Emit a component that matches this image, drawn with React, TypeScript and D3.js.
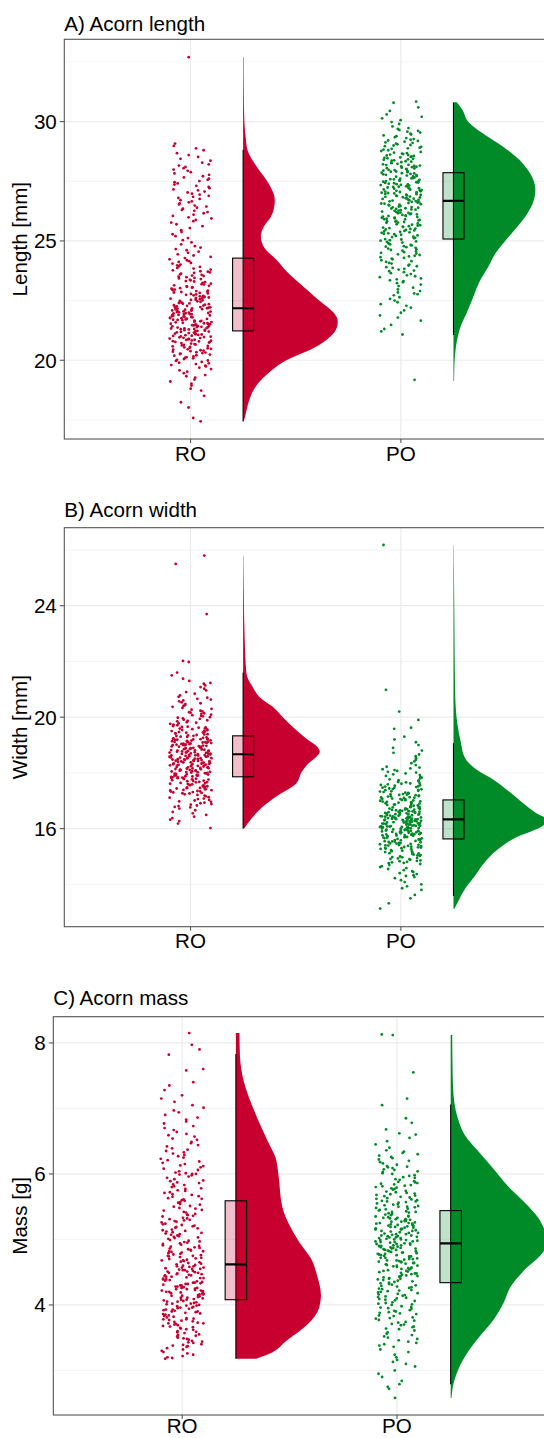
import React from "react";
import * as d3 from "d3";

// ---------------- DATA ----------------
const categories = ["RO", "PO"];
const groupColors = ["#C70030", "#008A28"];

// Panel A: acorn length [mm]
const lengthRO = [
  17.44, 17.58, 18.02, 18.24, 18.51, 18.73,
  18.81, 18.94, 19.02, 19.11, 19.19,
  19.27, 19.33, 19.38, 19.46, 19.52, 19.58, 19.63, 19.69, 19.74,
  19.77, 19.8, 19.84, 19.87, 19.9, 19.93, 19.97, 19.99, 20.02, 20.05, 20.08, 20.1, 20.13, 20.16, 20.19, 20.21, 20.24,
  20.26, 20.28, 20.3, 20.32, 20.34, 20.36, 20.38, 20.4, 20.42, 20.44, 20.46, 20.48, 20.5, 20.52, 20.54, 20.56, 20.58, 20.6, 20.62, 20.64, 20.66, 20.68, 20.7, 20.72, 20.74,
  20.76, 20.77, 20.79, 20.8, 20.82, 20.83, 20.85, 20.86, 20.88, 20.9, 20.91, 20.93, 20.94, 20.96, 20.97, 20.99, 21.0, 21.02, 21.03, 21.05, 21.06, 21.08, 21.09, 21.11, 21.12, 21.14, 21.16, 21.17, 21.19, 21.2, 21.22, 21.23, 21.24,
  21.26, 21.27, 21.29, 21.3, 21.31, 21.33, 21.34, 21.35, 21.37, 21.38, 21.39, 21.4, 21.42, 21.43, 21.44, 21.46, 21.47, 21.48, 21.5, 21.51, 21.52, 21.53, 21.55, 21.56, 21.57, 21.59, 21.6, 21.61, 21.63, 21.64, 21.65, 21.66, 21.68, 21.69, 21.7, 21.71, 21.73, 21.74,
  21.76, 21.77, 21.78, 21.8, 21.81, 21.82, 21.84, 21.85, 21.86, 21.88, 21.89, 21.9, 21.92, 21.93, 21.94, 21.96, 21.97, 21.98, 22.0, 22.01, 22.02, 22.04, 22.05, 22.06, 22.08, 22.09, 22.1, 22.12, 22.13, 22.14, 22.16, 22.17, 22.18, 22.2, 22.21, 22.22, 22.23, 22.24,
  22.26, 22.28, 22.29, 22.31, 22.33, 22.35, 22.37, 22.38, 22.4, 22.42, 22.44, 22.45, 22.47, 22.49, 22.51, 22.53, 22.54, 22.56, 22.58, 22.6, 22.61, 22.63, 22.65, 22.67, 22.68, 22.7, 22.72, 22.74,
  22.76, 22.78, 22.8, 22.82, 22.84, 22.86, 22.88, 22.9, 22.92, 22.94, 22.96, 22.98, 23.0, 23.02, 23.04, 23.06, 23.08, 23.1, 23.12, 23.14, 23.17, 23.19, 23.21, 23.24,
  23.27, 23.3, 23.32, 23.35, 23.37, 23.4, 23.43, 23.45, 23.48, 23.5, 23.53, 23.55, 23.58, 23.6, 23.63, 23.66, 23.68, 23.71, 23.73,
  23.77, 23.8, 23.84, 23.87, 23.91, 23.94, 23.98, 24.01, 24.05, 24.08, 24.12, 24.15, 24.19, 24.23,
  24.28, 24.33, 24.39, 24.44, 24.5, 24.55, 24.61, 24.66, 24.72,
  24.78, 24.86, 24.94, 25.03, 25.12, 25.2,
  25.28, 25.37, 25.45, 25.54, 25.62, 25.7,
  25.77, 25.83, 25.88, 25.94, 25.99, 26.05, 26.1, 26.16, 26.21,
  26.26, 26.3, 26.35, 26.39, 26.44, 26.48, 26.53, 26.57, 26.62, 26.66, 26.71,
  26.76, 26.8, 26.85, 26.89, 26.94, 26.98, 27.03, 27.07, 27.12, 27.16, 27.21,
  27.26, 27.31, 27.36, 27.41, 27.46, 27.51, 27.56, 27.61, 27.66, 27.71,
  27.77, 27.83, 27.88, 27.94, 27.99, 28.05, 28.1, 28.16, 28.21,
  28.28, 28.36, 28.44, 28.52, 28.6, 28.68,
  28.8, 28.88, 28.98, 29.08,
  32.7,
];
const lengthPO = [
  19.18,
  21.08, 21.21, 21.31, 21.48, 21.66,
  21.79, 21.88, 21.99, 22.09, 22.2,
  22.28, 22.35, 22.43, 22.5, 22.57, 22.64, 22.72,
  22.77, 22.8, 22.84, 22.9, 22.97, 23.04, 23.11, 23.17, 23.23,
  23.27, 23.31, 23.35, 23.39, 23.43, 23.48, 23.52, 23.56, 23.61, 23.65, 23.69, 23.73,
  23.76, 23.8, 23.83, 23.87, 23.9, 23.94, 23.97, 24.01, 24.05, 24.08, 24.12, 24.15, 24.19, 24.23,
  24.26, 24.29, 24.32, 24.35, 24.38, 24.41, 24.44, 24.47, 24.5, 24.53, 24.56, 24.59, 24.62, 24.65, 24.68, 24.71, 24.74,
  24.76, 24.78, 24.81, 24.83, 24.86, 24.88, 24.91, 24.93, 24.96, 24.98, 25.01, 25.03, 25.06, 25.08, 25.11, 25.13, 25.16, 25.18, 25.21, 25.23,
  25.26, 25.28, 25.3, 25.32, 25.34, 25.36, 25.38, 25.4, 25.42, 25.44, 25.46, 25.48, 25.5, 25.52, 25.54, 25.56, 25.58, 25.6, 25.62, 25.64, 25.66, 25.68, 25.7, 25.73,
  25.76, 25.77, 25.79, 25.81, 25.83, 25.84, 25.86, 25.88, 25.9, 25.91, 25.93, 25.95, 25.97, 25.98, 26.0, 26.02, 26.04, 26.05, 26.07, 26.09, 26.11, 26.12, 26.14, 26.16, 26.18, 26.19, 26.21, 26.23,
  26.26, 26.27, 26.29, 26.31, 26.32, 26.34, 26.36, 26.37, 26.39, 26.41, 26.42, 26.44, 26.46, 26.47, 26.49, 26.51, 26.52, 26.54, 26.56, 26.57, 26.59, 26.61, 26.62, 26.64, 26.66, 26.67, 26.69, 26.71, 26.72, 26.74,
  26.76, 26.77, 26.79, 26.8, 26.82, 26.83, 26.85, 26.86, 26.88, 26.9, 26.91, 26.93, 26.94, 26.96, 26.97, 26.99, 27.01, 27.02, 27.04, 27.05, 27.07, 27.08, 27.1, 27.12, 27.13, 27.15, 27.16, 27.18, 27.19, 27.21, 27.22, 27.24,
  27.26, 27.27, 27.29, 27.3, 27.32, 27.34, 27.35, 27.37, 27.38, 27.4, 27.42, 27.43, 27.45, 27.46, 27.48, 27.5, 27.51, 27.53, 27.54, 27.56, 27.58, 27.59, 27.61, 27.62, 27.64, 27.66, 27.67, 27.69, 27.7, 27.72, 27.74,
  27.76, 27.77, 27.79, 27.81, 27.83, 27.84, 27.86, 27.88, 27.9, 27.91, 27.93, 27.95, 27.97, 27.98, 28.0, 28.02, 28.04, 28.05, 28.07, 28.09, 28.11, 28.12, 28.14, 28.16, 28.18, 28.19, 28.21, 28.23,
  28.26, 28.28, 28.3, 28.32, 28.34, 28.36, 28.38, 28.4, 28.42, 28.44, 28.46, 28.48, 28.5, 28.52, 28.54, 28.56, 28.58, 28.6, 28.62, 28.64, 28.66, 28.68, 28.7, 28.73,
  28.77, 28.8, 28.83, 28.86, 28.88, 28.91, 28.94, 28.97, 29.0, 29.02, 29.05, 29.08, 29.11, 29.13, 29.16, 29.19, 29.21, 29.24,
  29.27, 29.31, 29.35, 29.39, 29.42, 29.46, 29.5, 29.54, 29.58, 29.61, 29.65, 29.69, 29.73,
  29.8, 29.9, 29.98, 30.06, 30.14, 30.2,
  30.3, 30.45, 30.6, 30.79, 30.84,
];
// box stats: [lower whisker, Q1, median, Q3, upper whisker]
const lengthBoxRO = [17.43, 21.23, 22.18, 24.28, 28.82];
const lengthBoxPO = [21.06, 25.08, 26.68, 27.86, 30.8];
// density profiles: [value, relative density]
const lengthDensRO = [
  [17.45, 0.007], [17.7, 0.024], [18.3, 0.063], [18.85, 0.125], [19.4, 0.25], [20.0, 0.458],
  [20.5, 0.74], [20.85, 0.88], [21.15, 0.96], [21.45, 0.995], [21.65, 1.0], [21.9, 0.975],
  [22.2, 0.9], [22.55, 0.79], [22.9, 0.69], [23.25, 0.59], [23.6, 0.49],
  [24.2, 0.354], [24.75, 0.219], [25.2, 0.1875], [25.6, 0.219], [26.0, 0.292], [26.35, 0.325], [26.7, 0.335],
  [27.05, 0.315], [27.4, 0.271], [28.1, 0.146], [28.8, 0.047], [29.4, 0.026], [30.0, 0.0135], [31.3, 0.007], [32.7, 0.005],
];
const lengthDensPO = [
  [19.13, 0.006], [19.5, 0.008], [20.0, 0.0125], [20.5, 0.024], [21.1, 0.052], [21.5, 0.083],
  [21.94, 0.135], [22.64, 0.208], [23.34, 0.281], [23.9, 0.365], [24.5, 0.448], [25.03, 0.552],
  [25.6, 0.677], [26.15, 0.781], [26.6, 0.84], [27.13, 0.865], [27.6, 0.84], [28.26, 0.729],
  [28.96, 0.521], [29.5, 0.3125], [30.0, 0.156], [30.5, 0.094], [30.81, 0.035],
];
const lengthTicks = [20, 25, 30];
const lengthMinor = [17.5, 22.5, 27.5, 32.5];

// Panel B: acorn width [mm]
const widthRO = [
  16.02, 16.18,
  16.27, 16.32, 16.38, 16.43, 16.49, 16.55, 16.6, 16.66, 16.72,
  16.76, 16.78, 16.81, 16.83, 16.86, 16.88, 16.91, 16.93, 16.96, 16.98, 17.01, 17.03, 17.06, 17.08, 17.11, 17.13, 17.16, 17.18, 17.21, 17.23,
  17.26, 17.27, 17.28, 17.3, 17.31, 17.33, 17.34, 17.35, 17.37, 17.38, 17.39, 17.41, 17.42, 17.44, 17.45, 17.46, 17.48, 17.49, 17.5, 17.52, 17.53, 17.55, 17.56, 17.57, 17.59, 17.6, 17.61, 17.63, 17.64, 17.66, 17.67, 17.68, 17.7, 17.71, 17.72, 17.74,
  17.76, 17.77, 17.78, 17.79, 17.8, 17.81, 17.82, 17.83, 17.84, 17.85, 17.86, 17.87, 17.88, 17.89, 17.9, 17.91, 17.92, 17.93, 17.94, 17.95, 17.96, 17.97, 17.98, 17.99, 18.0, 18.01, 18.02, 18.03, 18.04, 18.05, 18.06, 18.07, 18.08, 18.09, 18.1, 18.11, 18.12, 18.13, 18.14, 18.15, 18.16, 18.17, 18.18, 18.19, 18.2, 18.21, 18.22, 18.23, 18.24,
  18.25, 18.26, 18.27, 18.28, 18.28, 18.29, 18.3, 18.31, 18.32, 18.33, 18.33, 18.34, 18.35, 18.36, 18.37, 18.38, 18.38, 18.39, 18.4, 18.41, 18.42, 18.43, 18.43, 18.44, 18.45, 18.46, 18.47, 18.48, 18.48, 18.49, 18.5, 18.51, 18.52, 18.53, 18.53, 18.54, 18.55, 18.56, 18.57, 18.58, 18.58, 18.59, 18.6, 18.61, 18.62, 18.63, 18.63, 18.64, 18.65, 18.66, 18.67, 18.68, 18.68, 18.69, 18.7, 18.71, 18.72, 18.73, 18.73, 18.74,
  18.75, 18.76, 18.77, 18.78, 18.79, 18.8, 18.8, 18.81, 18.82, 18.83, 18.84, 18.85, 18.86, 18.87, 18.88, 18.89, 18.9, 18.9, 18.91, 18.92, 18.93, 18.94, 18.95, 18.96, 18.97, 18.98, 18.99, 19.0, 19.0, 19.01, 19.02, 19.03, 19.04, 19.05, 19.06, 19.07, 19.08, 19.09, 19.1, 19.1, 19.11, 19.12, 19.13, 19.14, 19.15, 19.16, 19.17, 19.18, 19.19, 19.2, 19.2, 19.21, 19.22, 19.23, 19.24,
  19.26, 19.27, 19.29, 19.3, 19.32, 19.33, 19.35, 19.36, 19.38, 19.39, 19.41, 19.42, 19.44, 19.45, 19.47, 19.48, 19.5, 19.51, 19.53, 19.54, 19.56, 19.57, 19.59, 19.6, 19.62, 19.63, 19.65, 19.66, 19.68, 19.69, 19.71, 19.73,
  19.76, 19.78, 19.8, 19.82, 19.85, 19.87, 19.89, 19.91, 19.94, 19.96, 19.98, 20.0, 20.03, 20.05, 20.07, 20.09, 20.12, 20.14, 20.16, 20.18, 20.21, 20.23,
  20.27, 20.3, 20.33, 20.37, 20.4, 20.43, 20.47, 20.5, 20.53, 20.57, 20.6, 20.63, 20.66, 20.7, 20.73,
  20.78, 20.84, 20.9, 20.96, 21.02, 21.08, 21.14, 21.2, 21.23,
  21.3, 21.38, 21.5, 21.6,
  21.98, 22.02, 23.7, 25.5, 25.8,
];
const widthPO = [
  13.13, 13.32, 13.5, 13.62,
  13.8, 13.86, 13.93, 14.0, 14.08, 14.15, 14.22,
  14.26, 14.3, 14.33, 14.37, 14.4, 14.44, 14.47, 14.51, 14.55, 14.58, 14.62, 14.65, 14.69, 14.73,
  14.76, 14.77, 14.79, 14.81, 14.83, 14.84, 14.86, 14.88, 14.9, 14.91, 14.93, 14.95, 14.97, 14.98, 15.0, 15.02, 15.04, 15.05, 15.07, 15.09, 15.11, 15.12, 15.14, 15.16, 15.18, 15.19, 15.21, 15.23,
  15.26, 15.27, 15.28, 15.3, 15.31, 15.32, 15.33, 15.34, 15.35, 15.37, 15.38, 15.39, 15.4, 15.41, 15.42, 15.44, 15.45, 15.46, 15.47, 15.48, 15.49, 15.51, 15.52, 15.53, 15.54, 15.55, 15.56, 15.58, 15.59, 15.6, 15.61, 15.62, 15.63, 15.65, 15.66, 15.67, 15.68, 15.69, 15.7, 15.72, 15.73, 15.74,
  15.75, 15.76, 15.77, 15.78, 15.79, 15.8, 15.8, 15.81, 15.82, 15.83, 15.84, 15.84, 15.85, 15.86, 15.87, 15.88, 15.88, 15.89, 15.9, 15.91, 15.92, 15.92, 15.93, 15.94, 15.95, 15.96, 15.96, 15.97, 15.98, 15.99, 16.0, 16.0, 16.01, 16.02, 16.02, 16.03, 16.04, 16.04, 16.05, 16.06, 16.06, 16.07, 16.08, 16.08, 16.09, 16.1, 16.1, 16.11, 16.12, 16.13, 16.14, 16.14, 16.15, 16.16, 16.17, 16.18, 16.18, 16.19, 16.2, 16.21, 16.22, 16.22, 16.23, 16.24,
  16.25, 16.26, 16.26, 16.27, 16.28, 16.28, 16.29, 16.3, 16.3, 16.31, 16.32, 16.32, 16.33, 16.34, 16.34, 16.35, 16.36, 16.36, 16.37, 16.38, 16.38, 16.39, 16.4, 16.4, 16.41, 16.42, 16.43, 16.44, 16.44, 16.45, 16.46, 16.47, 16.48, 16.49, 16.5, 16.5, 16.51, 16.52, 16.53, 16.54, 16.55, 16.56, 16.56, 16.57, 16.58, 16.59, 16.6, 16.61, 16.62, 16.62, 16.63, 16.64, 16.65, 16.66, 16.67, 16.68, 16.69, 16.7, 16.71, 16.72, 16.73, 16.74,
  16.76, 16.77, 16.78, 16.8, 16.81, 16.82, 16.83, 16.85, 16.86, 16.87, 16.88, 16.9, 16.91, 16.92, 16.93, 16.95, 16.96, 16.97, 16.98, 17.0, 17.01, 17.02, 17.03, 17.05, 17.06, 17.07, 17.08, 17.1, 17.11, 17.12, 17.13, 17.15, 17.16, 17.17, 17.18, 17.2, 17.21, 17.22, 17.23, 17.24,
  17.26, 17.28, 17.29, 17.31, 17.33, 17.34, 17.36, 17.38, 17.39, 17.41, 17.42, 17.44, 17.46, 17.47, 17.49, 17.51, 17.52, 17.54, 17.56, 17.57, 17.59, 17.61, 17.62, 17.64, 17.66, 17.67, 17.69, 17.71, 17.72, 17.74,
  17.77, 17.8, 17.83, 17.86, 17.89, 17.92, 17.95, 17.98, 18.01, 18.04, 18.07, 18.1, 18.13, 18.16, 18.19, 18.22,
  18.28, 18.35, 18.41, 18.47, 18.53, 18.6, 18.66, 18.72,
  18.8, 18.9, 19.0, 19.1, 19.2,
  19.3, 19.58, 19.62, 19.9, 20.2, 20.98, 26.18,
];
const widthBoxRO = [16.0, 17.86, 18.67, 19.33, 21.6];
const widthBoxPO = [13.58, 15.63, 16.33, 17.03, 19.06];
const widthDensRO = [
  [16.0, 0.01], [16.19, 0.05], [16.67, 0.17], [17.15, 0.35], [17.62, 0.56], [18.04, 0.62],
  [18.34, 0.69], [18.6, 0.78], [18.76, 0.81], [18.95, 0.78], [19.2, 0.68], [19.54, 0.56], [20.0, 0.42], [20.38, 0.31],
  [20.7, 0.18], [21.09, 0.1], [21.57, 0.035], [22.77, 0.017], [24.56, 0.007], [25.79, 0.003],
];
const widthDensPO = [
  [13.12, 0.01], [13.32, 0.04], [13.8, 0.115], [14.27, 0.22], [14.75, 0.32], [15.23, 0.46],
  [15.7, 0.67], [16.07, 0.93], [16.3, 1.0], [16.54, 0.88], [16.9, 0.74], [17.38, 0.57],
  [17.74, 0.43], [18.1, 0.25], [18.58, 0.115], [19.06, 0.08], [19.78, 0.04], [20.97, 0.017],
  [23.37, 0.01], [26.18, 0.003],
];
const widthTicks = [16, 20, 24];
const widthMinor = [14, 18, 22, 26];

// Panel C: acorn mass [g]
const massRO = [
  3.18, 3.19, 3.2, 3.22, 3.24, 3.26, 3.28, 3.3, 3.32, 3.34, 3.36, 3.37,
  3.38, 3.39, 3.4, 3.42, 3.43, 3.44, 3.45, 3.47, 3.48, 3.49, 3.5, 3.52, 3.53, 3.54, 3.55, 3.57, 3.58, 3.59, 3.6, 3.62,
  3.63, 3.64, 3.65, 3.66, 3.67, 3.68, 3.69, 3.7, 3.71, 3.72, 3.72, 3.73, 3.74, 3.75, 3.76, 3.77, 3.78, 3.78, 3.79, 3.8, 3.81, 3.82, 3.83, 3.84, 3.85, 3.86, 3.87,
  3.88, 3.89, 3.9, 3.9, 3.91, 3.92, 3.93, 3.93, 3.94, 3.95, 3.96, 3.96, 3.97, 3.98, 3.99, 3.99, 4.0, 4.01, 4.02, 4.02, 4.03, 4.04, 4.05, 4.05, 4.06, 4.07, 4.08, 4.08, 4.09, 4.1, 4.11, 4.11, 4.12,
  4.13, 4.14, 4.14, 4.15, 4.16, 4.16, 4.17, 4.18, 4.18, 4.19, 4.2, 4.2, 4.21, 4.22, 4.22, 4.23, 4.24, 4.24, 4.25, 4.26, 4.26, 4.27, 4.28, 4.28, 4.29, 4.3, 4.3, 4.31, 4.32, 4.32, 4.33, 4.34, 4.34, 4.35, 4.36, 4.37,
  4.38, 4.39, 4.39, 4.4, 4.41, 4.41, 4.42, 4.43, 4.43, 4.44, 4.45, 4.45, 4.46, 4.47, 4.47, 4.48, 4.49, 4.49, 4.5, 4.51, 4.51, 4.52, 4.53, 4.53, 4.54, 4.55, 4.55, 4.56, 4.57, 4.57, 4.58, 4.59, 4.59, 4.6, 4.61, 4.62,
  4.63, 4.64, 4.65, 4.66, 4.67, 4.68, 4.68, 4.69, 4.7, 4.71, 4.72, 4.73, 4.74, 4.75, 4.75, 4.76, 4.77, 4.78, 4.79, 4.8, 4.81, 4.82, 4.82, 4.83, 4.84, 4.85, 4.86, 4.87,
  4.88, 4.89, 4.9, 4.91, 4.92, 4.93, 4.94, 4.95, 4.96, 4.97, 4.98, 4.99, 5.01, 5.02, 5.03, 5.04, 5.05, 5.06, 5.07, 5.08, 5.09, 5.1, 5.11, 5.12,
  5.13, 5.14, 5.15, 5.17, 5.18, 5.19, 5.2, 5.21, 5.22, 5.23, 5.24, 5.26, 5.27, 5.28, 5.29, 5.3, 5.31, 5.32, 5.33, 5.35, 5.36, 5.37,
  5.38, 5.39, 5.41, 5.42, 5.44, 5.45, 5.47, 5.48, 5.5, 5.51, 5.53, 5.54, 5.56, 5.57, 5.59, 5.6, 5.61, 5.62,
  5.63, 5.65, 5.66, 5.68, 5.69, 5.71, 5.72, 5.74, 5.75, 5.77, 5.78, 5.8, 5.81, 5.83, 5.84, 5.86, 5.87,
  5.89, 5.9, 5.92, 5.94, 5.96, 5.98, 5.99, 6.0, 6.0, 6.01, 6.02, 6.04, 6.06, 6.08, 6.1, 6.12,
  6.13, 6.15, 6.17, 6.19, 6.21, 6.23, 6.25, 6.27, 6.29, 6.31, 6.33, 6.35, 6.37,
  6.39, 6.42, 6.44, 6.47, 6.49, 6.52, 6.54, 6.57, 6.59, 6.61,
  6.64, 6.67, 6.7, 6.73, 6.77, 6.8, 6.83, 6.86,
  6.9, 6.94, 6.97, 7.01, 7.05, 7.1,
  7.15, 7.2, 7.28, 7.35, 7.4, 7.58, 7.6, 7.82, 7.9, 7.97, 8.15,
];
const massPO = [
  2.58, 2.72, 2.75, 2.79, 2.84,
  2.9, 2.95, 3.0, 3.06, 3.1,
  3.13, 3.16, 3.2, 3.24, 3.28, 3.32, 3.36,
  3.38, 3.4, 3.42, 3.44, 3.46, 3.48, 3.5, 3.52, 3.54, 3.56, 3.58, 3.61,
  3.63, 3.64, 3.66, 3.67, 3.69, 3.7, 3.71, 3.73, 3.74, 3.76, 3.77, 3.79, 3.8, 3.81, 3.83, 3.84, 3.86, 3.87,
  3.88, 3.89, 3.9, 3.91, 3.92, 3.94, 3.95, 3.96, 3.97, 3.98, 4.0, 4.01, 4.02, 4.03, 4.04, 4.06, 4.07, 4.08, 4.09, 4.1, 4.11, 4.12,
  4.13, 4.14, 4.15, 4.16, 4.17, 4.18, 4.19, 4.2, 4.21, 4.22, 4.23, 4.24, 4.25, 4.26, 4.27, 4.28, 4.29, 4.3, 4.31, 4.32, 4.33, 4.34, 4.35, 4.36, 4.37,
  4.38, 4.39, 4.4, 4.4, 4.41, 4.42, 4.43, 4.44, 4.44, 4.45, 4.46, 4.47, 4.48, 4.48, 4.49, 4.5, 4.51, 4.52, 4.52, 4.53, 4.54, 4.55, 4.56, 4.56, 4.57, 4.58, 4.59, 4.6, 4.6, 4.61, 4.62,
  4.63, 4.64, 4.64, 4.65, 4.66, 4.66, 4.67, 4.68, 4.68, 4.69, 4.7, 4.7, 4.71, 4.72, 4.72, 4.73, 4.74, 4.74, 4.75, 4.76, 4.76, 4.77, 4.78, 4.78, 4.79, 4.8, 4.8, 4.81, 4.82, 4.82, 4.83, 4.84, 4.84, 4.85, 4.86, 4.86, 4.87, 4.87,
  4.88, 4.88, 4.89, 4.9, 4.9, 4.91, 4.91, 4.92, 4.93, 4.93, 4.94, 4.94, 4.95, 4.96, 4.96, 4.97, 4.97, 4.98, 4.99, 4.99, 5.0, 5.0, 5.01, 5.02, 5.02, 5.03, 5.03, 5.04, 5.05, 5.05, 5.06, 5.06, 5.07, 5.08, 5.08, 5.09, 5.1, 5.1, 5.11, 5.12,
  5.13, 5.13, 5.14, 5.15, 5.15, 5.16, 5.16, 5.17, 5.18, 5.18, 5.19, 5.19, 5.2, 5.21, 5.21, 5.22, 5.22, 5.23, 5.24, 5.24, 5.25, 5.25, 5.26, 5.27, 5.27, 5.28, 5.28, 5.29, 5.3, 5.3, 5.31, 5.31, 5.32, 5.33, 5.33, 5.34, 5.35, 5.35, 5.36, 5.37,
  5.38, 5.39, 5.4, 5.41, 5.42, 5.42, 5.43, 5.44, 5.45, 5.46, 5.47, 5.48, 5.49, 5.5, 5.5, 5.51, 5.52, 5.53, 5.54, 5.55, 5.56, 5.57, 5.58, 5.58, 5.59, 5.6, 5.61, 5.62,
  5.63, 5.64, 5.65, 5.66, 5.67, 5.68, 5.69, 5.7, 5.71, 5.72, 5.73, 5.74, 5.76, 5.77, 5.78, 5.79, 5.8, 5.81, 5.82, 5.83, 5.84, 5.85, 5.86, 5.87,
  5.88, 5.89, 5.91, 5.92, 5.94, 5.95, 5.97, 5.98, 6.0, 6.01, 6.03, 6.04, 6.06, 6.07, 6.09, 6.1, 6.11, 6.12,
  6.14, 6.16, 6.18, 6.2, 6.22, 6.24, 6.26, 6.28, 6.3, 6.32, 6.34, 6.36,
  6.4, 6.45, 6.5, 6.55, 6.6, 6.62,
  6.68, 6.78, 6.85, 7.05, 7.15, 7.55, 8.12, 8.13,
];
const massBoxRO = [3.18, 4.08, 4.62, 5.59, 7.83];
const massBoxPO = [2.79, 4.34, 4.94, 5.44, 7.06];
const massDensRO = [
  [3.18, 0.21], [3.25, 0.34], [3.45, 0.52], [3.7, 0.74], [3.95, 0.86], [4.15, 0.88],
  [4.45, 0.84], [4.7, 0.78], [4.95, 0.66], [5.2, 0.56], [5.5, 0.48], [5.99, 0.44],
  [6.25, 0.41], [6.5, 0.33], [7.0, 0.18], [7.4, 0.084], [7.8, 0.042], [8.15, 0.037],
];
const massDensPO = [
  [2.58, 0.008], [2.74, 0.021], [3.0, 0.074], [3.26, 0.168], [3.51, 0.295], [3.77, 0.442],
  [4.03, 0.547], [4.28, 0.621], [4.54, 0.768], [4.79, 0.947], [4.95, 1.0], [5.05, 0.99],
  [5.31, 0.916], [5.56, 0.768], [5.82, 0.589], [6.08, 0.442], [6.33, 0.295], [6.59, 0.147],
  [6.85, 0.074], [7.1, 0.037], [7.5, 0.021], [8.12, 0.016],
];
const massTicks = [4, 6, 8];
const massMinor = [3, 5, 7];

const panelTitles = ["A) Acorn length", "B) Acorn width", "C) Acorn mass"];
const yTitles = ["Length [mm]", "Width [mm]", "Mass [g]"];

// ---------------- LAYOUT ----------------
const W = 544;
const H = 1438;
const PANEL_RIGHT = 586;
const X_DOMAIN: [number, number] = [0.4, 2.88];
const NUDGE = 0.25;
const BOX_HALF = 0.05;
const JITTER = 0.1;
const VIOLIN_MAX = 0.45;
const FONT = "'Liberation Sans', Arial, Helvetica, sans-serif";
const FS = 20.6;

const layouts = [
  { top: 39.3, bottom: 439, left: 64.3, yDomain: [16.7, 33.45], titleY: 30.5, xLabY: 460.5 },
  { top: 527.7, bottom: 926.7, left: 64.3, yDomain: [12.48, 26.8], titleY: 517, xLabY: 948.3 },
  { top: 1016.7, bottom: 1415, left: 53.3, yDomain: [2.32, 8.4], titleY: 1005, xLabY: 1433.4 },
];

const panelsData = [
  { values: [lengthRO, lengthPO], boxes: [lengthBoxRO, lengthBoxPO], dens: [lengthDensRO, lengthDensPO], ticks: lengthTicks, minor: lengthMinor },
  { values: [widthRO, widthPO], boxes: [widthBoxRO, widthBoxPO], dens: [widthDensRO, widthDensPO], ticks: widthTicks, minor: widthMinor },
  { values: [massRO, massPO], boxes: [massBoxRO, massBoxPO], dens: [massDensRO, massDensPO], ticks: massTicks, minor: massMinor },
];

function jitterOf(i: number, seed: number) {
  const s = Math.sin((i + 1) * 12.9898 + seed * 78.233) * 43758.5453;
  return s - Math.floor(s);
}

function Panel({ idx }: { idx: number }) {
  const lay = layouts[idx];
  const d = panelsData[idx];
  const x = d3.scaleLinear().domain(X_DOMAIN).range([lay.left, PANEL_RIGHT]);
  const y = d3.scaleLinear().domain(lay.yDomain).range([lay.bottom, lay.top]);
  const clipId = `clip-${idx}`;
  const gridColor = "#EBEBEB";

  return (
    <g>
      <defs>
        <clipPath id={clipId}>
          <rect x={lay.left} y={lay.top} width={PANEL_RIGHT - lay.left} height={lay.bottom - lay.top} />
        </clipPath>
      </defs>
      <rect x={lay.left} y={lay.top} width={PANEL_RIGHT - lay.left} height={lay.bottom - lay.top} fill="#fff" />
      <g clipPath={`url(#${clipId})`}>
        {d.minor.map((t) => (
          <line key={`mi${t}`} x1={lay.left} x2={PANEL_RIGHT} y1={y(t)} y2={y(t)} stroke={gridColor} strokeWidth={0.6} />
        ))}
        {d.ticks.map((t) => (
          <line key={`ma${t}`} x1={lay.left} x2={PANEL_RIGHT} y1={y(t)} y2={y(t)} stroke={gridColor} strokeWidth={1.2} />
        ))}
        {categories.map((c, ci) => (
          <line key={`vx${c}`} x1={x(ci + 1)} x2={x(ci + 1)} y1={lay.top} y2={lay.bottom} stroke={gridColor} strokeWidth={1.2} />
        ))}
        {categories.map((c, ci) => {
          const base = ci + 1 + NUDGE;
          const area = d3
            .area<number[]>()
            .y((p) => y(p[0]))
            .x0(() => x(base))
            .x1((p) => x(base + p[1] * VIOLIN_MAX))
            .curve(d3.curveMonotoneY);
          return <path key={`v${c}`} d={area(d.dens[ci]) || ""} fill={groupColors[ci]} />;
        })}
        {categories.map((c, ci) => (
          <g key={`p${c}`}>
            {d.values[ci].map((v, i) => (
              <circle
                key={i}
                cx={x(ci + 1 + (jitterOf(i, idx * 7 + ci * 3 + 1) - 0.5) * 2 * JITTER)}
                cy={y(v)}
                r={1.4}
                fill={groupColors[ci]}
              />
            ))}
          </g>
        ))}
        {categories.map((c, ci) => {
          const b = d.boxes[ci];
          const cx = x(ci + 1 + NUDGE);
          const x0 = x(ci + 1 + NUDGE - BOX_HALF);
          const x1 = x(ci + 1 + NUDGE + BOX_HALF);
          return (
            <g key={`b${c}`}>
              <line x1={cx} x2={cx} y1={y(b[0])} y2={y(b[4])} stroke="#000" strokeWidth={1.1} />
              <rect
                x={x0}
                y={y(b[3])}
                width={x1 - x0}
                height={y(b[1]) - y(b[3])}
                fill={groupColors[ci]}
                fillOpacity={0.25}
                stroke="#000"
                strokeWidth={1.1}
              />
              <line x1={x0} x2={x1} y1={y(b[2])} y2={y(b[2])} stroke="#000" strokeWidth={2.2} />
            </g>
          );
        })}
      </g>
      <rect
        x={lay.left}
        y={lay.top}
        width={PANEL_RIGHT - lay.left}
        height={lay.bottom - lay.top}
        fill="none"
        stroke="#555"
        strokeWidth={1.1}
      />
      {d.ticks.map((t) => (
        <g key={`yt${t}`}>
          <line x1={lay.left - 4.5} x2={lay.left} y1={y(t)} y2={y(t)} stroke="#555" strokeWidth={1.1} />
          <text x={lay.left - 7.5} y={y(t) + 7.5} textAnchor="end" fontSize={FS} fill="#000" fontFamily={FONT}>
            {t}
          </text>
        </g>
      ))}
      {categories.map((c, ci) => (
        <g key={`xt${c}`}>
          <line x1={x(ci + 1)} x2={x(ci + 1)} y1={lay.bottom} y2={lay.bottom + 4} stroke="#555" strokeWidth={1.1} />
          <text x={x(ci + 1)} y={lay.xLabY} textAnchor="middle" fontSize={FS} fill="#000" fontFamily={FONT}>
            {c}
          </text>
        </g>
      ))}
      <text
        transform={`translate(26.5, ${(lay.top + lay.bottom) / 2}) rotate(-90)`}
        textAnchor="middle"
        fontSize={FS}
        fill="#000"
        fontFamily={FONT}
      >
        {yTitles[idx]}
      </text>
      <text x={lay.left} y={lay.titleY} fontSize={FS} fill="#000" fontFamily={FONT}>
        {panelTitles[idx]}
      </text>
    </g>
  );
}

export default function App() {
  return (
    <svg
      width={W}
      height={H}
      viewBox={`0 0 ${W} ${H}`}
      style={{ position: "absolute", left: 0, top: 0, display: "block", background: "#fff" }}
    >
      <rect x={0} y={0} width={W} height={H} fill="#fff" />
      {[0, 1, 2].map((i) => (
        <Panel key={i} idx={i} />
      ))}
    </svg>
  );
}
